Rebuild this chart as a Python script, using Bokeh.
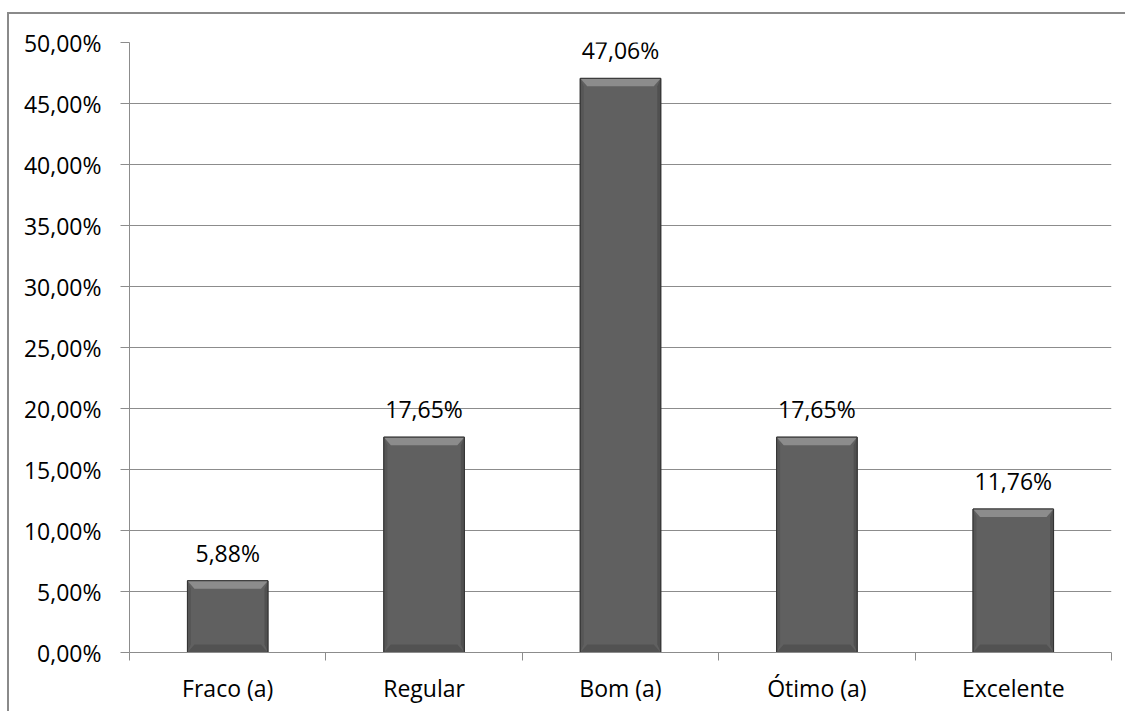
from bokeh.plotting import figure
from bokeh.models import Range1d, FixedTicker, ColumnDataSource, LabelSet
from bokeh.embed import file_html
from bokeh.resources import INLINE
from bokeh.core.properties import value

categories = ["Fraco (a)", "Regular", "Bom (a)", "Ótimo (a)", "Excelente"]
percentages = [5.88, 17.65, 47.06, 17.65, 11.76]
value_labels = ["5,88%", "17,65%", "47,06%", "17,65%", "11,76%"]
y_ticks = [0, 5, 10, 15, 20, 25, 30, 35, 40, 45, 50]
y_tick_labels = ["0,00%", "5,00%", "10,00%", "15,00%", "20,00%", "25,00%",
                 "30,00%", "35,00%", "40,00%", "45,00%", "50,00%"]

FONT = "Open Sans"
FS = "23px"
n = len(categories)
centers = [i + 0.5 for i in range(n)]
bw = 0.41

W, H = 1118, 699
ML, MR, MT, MB = 120, 16, 28, 61
p = figure(width=W, height=H, output_backend="svg", toolbar_location=None,
           x_range=Range1d(0, n), y_range=Range1d(0, 50),
           min_border_left=ML, min_border_right=MR, min_border_top=MT, min_border_bottom=MB)
p.styles = {"border-left": "2px solid #8a8a8a", "border-top": "2px solid #8a8a8a",
            "margin-top": "12px", "margin-left": "7px"}
p.outline_line_color = None
p.background_fill_color = "white"

# grid
p.xgrid.grid_line_color = None
p.ygrid.grid_line_color = "#8c8c8c"
p.ygrid.grid_line_width = 1

# y axis
p.yaxis.ticker = FixedTicker(ticks=y_ticks)
p.yaxis.major_label_overrides = {t: l for t, l in zip(y_ticks, y_tick_labels)}
p.yaxis.axis_line_color = "#8c8c8c"
p.yaxis.major_tick_line_color = "#8c8c8c"
p.yaxis.major_tick_out = 9
p.yaxis.major_tick_in = 0
p.yaxis.minor_tick_line_color = None
p.yaxis.major_label_standoff = 19
p.yaxis.major_label_text_font = FONT
p.yaxis.major_label_text_font_size = FS
p.yaxis.major_label_text_color = "#000000"

# x axis
p.xaxis.ticker = FixedTicker(ticks=centers, minor_ticks=list(range(n + 1)))
p.xaxis.major_label_overrides = {c: l for c, l in zip(centers, categories)}
p.xaxis.axis_line_color = "#8c8c8c"
p.xaxis.major_tick_line_color = None
p.xaxis.major_tick_out = 0
p.xaxis.major_tick_in = 0
p.xaxis.minor_tick_line_color = "#8c8c8c"
p.xaxis.minor_tick_out = 8
p.xaxis.minor_tick_in = 0
p.xaxis.major_label_standoff = 11
p.xaxis.major_label_text_font = FONT
p.xaxis.major_label_text_font_size = FS
p.xaxis.major_label_text_color = "#000000"

# bars: body
src = ColumnDataSource(dict(x=centers, top=percentages, lab=value_labels))
p.vbar(x="x", top="top", bottom=0, width=bw, source=src,
       fill_color="#606060", line_color="#3a3a3a", line_width=1)

# bevel details derived from the data
px_x = n / float(W - ML - MR)
px_y = 50.0 / float(H - MT - MB)
dh = 8 * px_y
dx = 7 * px_x
top_xs, top_ys, bot_xs, bot_ys, l_xs, l_ys, r_xs, r_ys = [], [], [], [], [], [], [], []
for c, t in zip(centers, percentages):
    x0, x1 = c - bw / 2, c + bw / 2
    top_xs.append([x0, x1, x1 - dx, x0 + dx])
    top_ys.append([t, t, t - dh, t - dh])
    bot_xs.append([x0, x1, x1 - dx, x0 + dx])
    bot_ys.append([0, 0, dh, dh])
    l_xs.append([x0, x0 + dx * 0.5, x0 + dx * 0.5, x0])
    l_ys.append([0, dh, t - dh, t])
    r_xs.append([x1, x1 - dx * 0.5, x1 - dx * 0.5, x1])
    r_ys.append([0, dh, t - dh, t])
p.patches(top_xs, top_ys, fill_color="#8c8c8c", line_color=None)
p.patches(bot_xs, bot_ys, fill_color="#525252", line_color=None)
p.patches(l_xs, l_ys, fill_color="#565656", line_color=None)
p.patches(r_xs, r_ys, fill_color="#505050", line_color=None)
p.vbar(x="x", top="top", bottom=0, width=bw, source=src,
       fill_color=None, line_color="#333333", line_width=1)

labels = LabelSet(x="x", y="top", text="lab", source=src, text_align="center",
                  text_baseline="alphabetic", y_offset=19,
                  text_font=value(FONT), text_font_size=FS, text_color="#000000")
p.add_layout(labels)

open("out.html", "w").write(file_html(p, INLINE))
